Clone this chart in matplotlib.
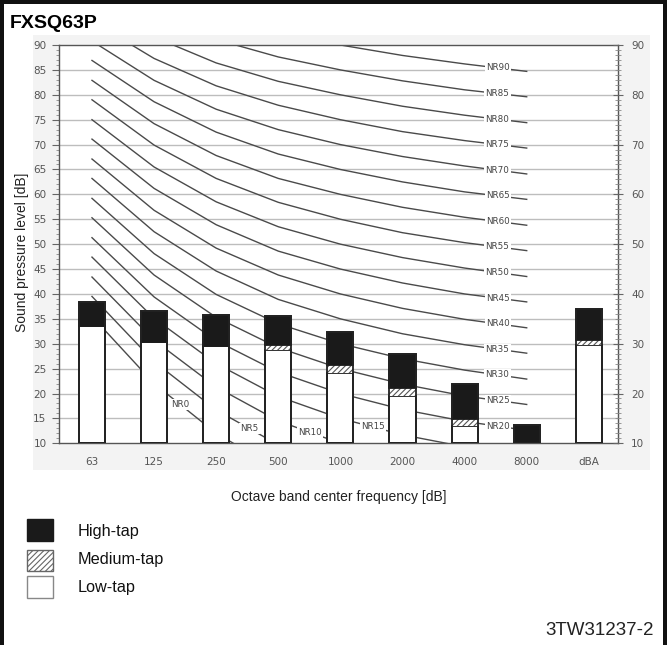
import matplotlib.pyplot as plt
import numpy as np
from matplotlib.patches import Rectangle

plt.rcParams['font.family'] = ['Liberation Sans', 'DejaVu Sans']
plt.rcParams['hatch.linewidth'] = 0.8

# octave bands plus overall A-weighted level
bands = ["63", "125", "250", "500", "1000", "2000", "4000", "8000", "dBA"]
high_tap = [38.3, 36.5, 35.7, 35.6, 32.3, 27.9, 22.0, 13.7, 37.0]
medium_tap = [33.6, 30.4, 29.5, 29.7, 25.8, 21.2, 14.8, 10.0, 30.7]
low_tap = [33.6, 30.4, 29.5, 28.8, 24.1, 19.4, 13.5, 10.0, 29.7]

# NR reference curves, levels at 63 ... 8000 Hz
nr_names = ["NR0", "NR5", "NR10", "NR15", "NR20", "NR25", "NR30", "NR35", "NR40",
            "NR45", "NR50", "NR55", "NR60", "NR65", "NR70", "NR75", "NR80",
            "NR85", "NR90"]
nr_levels = [
    [35.5, 22.0, 12.0, 4.8, 0.0, -3.5, -6.1, -8.0],
    [39.5, 26.4, 16.7, 9.7, 5.0, 1.6, -1.0, -2.9],
    [43.4, 30.7, 21.3, 14.5, 10.0, 6.7, 4.2, 2.3],
    [47.4, 35.1, 26.0, 19.4, 15.0, 11.7, 9.3, 7.5],
    [51.3, 39.4, 30.6, 24.3, 20.0, 16.8, 14.4, 12.6],
    [55.3, 43.8, 35.3, 29.2, 25.0, 21.9, 19.5, 17.8],
    [59.2, 48.1, 39.9, 34.0, 30.0, 27.0, 24.7, 22.9],
    [63.2, 52.5, 44.6, 38.9, 35.0, 32.0, 29.8, 28.1],
    [67.1, 56.8, 49.2, 43.8, 40.0, 37.1, 34.9, 33.2],
    [71.1, 61.2, 53.9, 48.6, 45.0, 42.2, 40.0, 38.4],
    [75.0, 65.5, 58.5, 53.5, 50.0, 47.3, 45.2, 43.5],
    [79.0, 69.9, 63.2, 58.4, 55.0, 52.3, 50.3, 48.7],
    [82.9, 74.2, 67.8, 63.2, 60.0, 57.4, 55.4, 53.8],
    [86.9, 78.6, 72.5, 68.1, 65.0, 62.5, 60.5, 59.0],
    [90.8, 82.9, 77.1, 73.0, 70.0, 67.6, 65.7, 64.1],
    [94.8, 87.3, 81.8, 77.9, 75.0, 72.6, 70.8, 69.3],
    [98.7, 91.6, 86.4, 82.7, 80.0, 77.7, 75.9, 74.4],
    [102.7, 96.0, 91.1, 87.6, 85.0, 82.8, 81.0, 79.6],
    [106.6, 100.3, 95.7, 92.5, 90.0, 87.9, 86.2, 84.7],
]

W, H = 667, 645
fig = plt.figure(figsize=(W / 100, H / 100), dpi=100)

# light panel behind the chart, black frame on three sides
fig.add_artist(Rectangle((33 / W, 1 - 470 / H), 617 / W, 435 / H,
                         transform=fig.transFigure, fc='#f3f3f3', ec='none', zorder=0))
for rx, ry, rw, rh in [(0, 1 - 4 / H, 1, 4 / H), (0, 0, 4 / W, 1), (663 / W, 0, 4 / W, 1)]:
    fig.add_artist(Rectangle((rx, ry), rw, rh, transform=fig.transFigure,
                             fc='#111111', ec='none', zorder=10))

ax = fig.add_axes([59 / W, 1 - 443.3 / H, 559 / W, 398.3 / H])
ax.set_facecolor('white')
ax.set_xlim(-0.531, 8.47)
ax.set_ylim(10, 90)

# horizontal grid
for lvl in range(15, 90, 5):
    ax.axhline(lvl, color='#bdbdbd', lw=1.0, zorder=1)

# NR curves with their labels
xb = np.arange(8)
for name, lv in zip(nr_names, nr_levels):
    ax.plot(xb, lv, color='#4a4a4a', lw=1.0, zorder=2)
    nr = int(name[2:])
    lx = {0: 1.42, 5: 2.54, 10: 3.51, 15: 4.52}.get(nr, 6.53)
    ly = np.interp(lx, xb, lv)
    ax.text(lx, ly, name, fontsize=6.3, color='#444444', ha='center', va='center',
            family='DejaVu Sans', zorder=3,
            bbox=dict(fc='white', ec='none', pad=0.8))

# stacked bars from the 10 dB floor
x = np.arange(len(bands))
w = 0.42
floor = 10
low = np.array(low_tap)
mid = np.array(medium_tap)
high = np.array(high_tap)
ax.bar(x, low - floor, w, bottom=floor, color='white', edgecolor='#222222', lw=1.3, zorder=4)
ax.bar(x, mid - low, w, bottom=low, color='white', edgecolor='#555555',
       hatch='//////', lw=0, zorder=4)
ax.bar(x, high - mid, w, bottom=mid, color='#1a1a1a', edgecolor='#1a1a1a', lw=1.3, zorder=4)
ax.bar(x, high - floor, w, bottom=floor, fill=False, edgecolor='#222222', lw=1.3, zorder=5)

# axes styling
for s in ax.spines.values():
    s.set_color('#555555')
    s.set_linewidth(1.0)
ax.set_xticks(x)
ax.set_xticklabels(bands)
ax.tick_params(axis='x', length=0, pad=10, labelsize=7.5, labelcolor='#555555')
ax.set_yticks(np.arange(10, 91, 5))
ax.set_yticks(np.arange(10, 91, 1), minor=True)
ax.tick_params(axis='y', which='major', direction='out', length=5, color='#666666',
               labelsize=7.5, labelcolor='#555555', pad=4)
ax.tick_params(axis='y', which='minor', direction='out', length=2, color='#888888')
for lab in ax.get_xticklabels() + ax.get_yticklabels():
    lab.set_family('DejaVu Sans')

ax2 = ax.twinx()
ax2.set_ylim(10, 90)
ax2.set_yticks(np.arange(10, 91, 10))
ax2.set_yticks(np.arange(10, 91, 1), minor=True)
ax2.tick_params(axis='y', which='major', direction='inout', length=7, color='#666666',
                labelsize=7.5, labelcolor='#555555', pad=6)
ax2.tick_params(axis='y', which='minor', direction='inout', length=4, color='#888888')
for lab in ax2.get_yticklabels():
    lab.set_family('DejaVu Sans')
for s in ax2.spines.values():
    s.set_visible(False)

# captions
fig.text(10 / W, 1 - 28 / H, "FXSQ63P", fontsize=14, fontweight='bold', va='baseline')
fig.text(22 / W, 1 - 252 / H, "Sound pressure level [dB]", fontsize=10, rotation=90,
         ha='center', va='center', color='#222222')
fig.text(338.5 / W, 1 - 497 / H, "Octave band center frequency [dB]", fontsize=10,
         ha='center', va='center', color='#222222')
fig.text(654 / W, 1 - 635 / H, "3TW31237-2", fontsize=13.5, ha='right', va='baseline',
         color='#222222')

# legend
legend_rows = [("High-tap", 519, 541, 536, dict(fc='#1a1a1a', ec='#1a1a1a')),
               ("Medium-tap", 550, 571, 564, dict(fc='white', ec='#666666', hatch='//////')),
               ("Low-tap", 576, 598, 592, dict(fc='white', ec='#888888'))]
for label, top, bot, base, style in legend_rows:
    fig.add_artist(Rectangle((27 / W, 1 - bot / H), 26 / W, (bot - top) / H,
                             transform=fig.transFigure, lw=1.0, **style))
    fig.text(78 / W, 1 - base / H, label, fontsize=11.7, va='baseline', color='#111111')

fig.savefig("out.png", dpi=100)
